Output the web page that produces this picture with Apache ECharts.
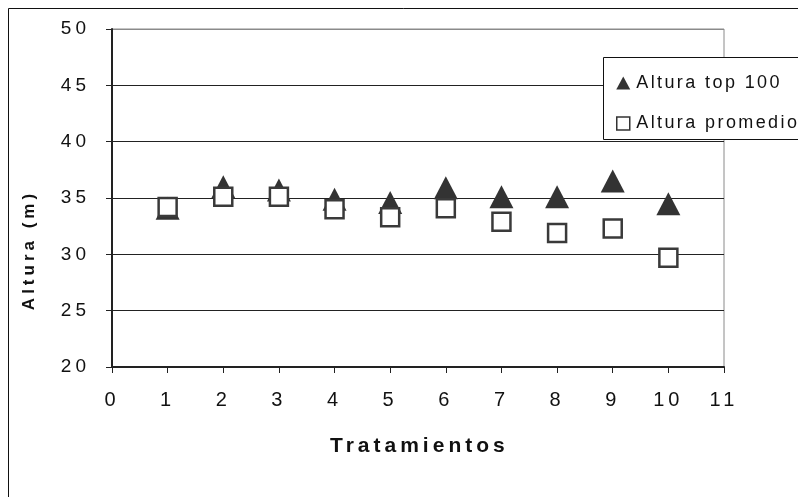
<!DOCTYPE html>
<html>
<head>
<meta charset="utf-8">
<script src="https://cdn.jsdelivr.net/npm/echarts@6/dist/echarts.min.js"></script>
<style>html,body{margin:0;padding:0;background:#fff}#c{width:798px;height:497px}</style>
</head>
<body>
<div id="c"></div>
<script>
const tratamientos = [1, 2, 3, 4, 5, 6, 7, 8, 9, 10];
const alturaTop100 = [34.1, 36.0, 35.7, 34.9, 34.6, 35.9, 35.1, 35.1, 36.5, 34.5];
const alturaPromedio = [34.2, 35.1, 35.1, 34.0, 33.3, 34.1, 32.9, 31.9, 32.3, 29.7];
const xTicks = [0, 11, 1];
const yTicks = [20, 50, 5];
const seriesNames = ['Altura top 100', 'Altura promedio'];
const xTitle = 'Tratamientos';
const yTitle = 'Altura (m)';

// Widen letter spacing of text like in the reference (spaced, narrow lettering)
(function () {
  const proto = CanvasRenderingContext2D.prototype;
  if (!('letterSpacing' in proto)) return;
  const orig = proto.fillText;
  proto.fillText = function (t, x, y, w) {
    const prev = this.letterSpacing;
    const f = this.font || '';
    if (/bold|700/.test(f)) this.letterSpacing = '4px';
    else if (/\b18px/.test(f)) this.letterSpacing = '2.4px';
    const r = (w === undefined) ? orig.call(this, t, x, y) : orig.call(this, t, x, y, w);
    this.letterSpacing = prev;
    return r;
  };
})();

const FONT = '"Liberation Sans", Arial, sans-serif';
const chart = echarts.init(document.getElementById('c'), null, {renderer: 'canvas'});
chart.setOption({
  animation: false,
  backgroundColor: '#fff',
  grid: {left: 112, right: 74, top: 29, bottom: 130, show: true, borderColor: '#8a8a8a', borderWidth: 1, backgroundColor: 'transparent'},
  xAxis: {
    type: 'value', min: xTicks[0], max: xTicks[1], interval: xTicks[2],
    axisLine: {show: true, onZero: false, lineStyle: {color: '#222', width: 2}},
    axisTick: {show: true, length: 6, lineStyle: {color: '#222', width: 1}},
    axisLabel: {color: '#111', fontFamily: FONT, fontSize: 20, margin: 23},
    splitLine: {show: false}
  },
  yAxis: {
    type: 'value', min: yTicks[0], max: yTicks[1], interval: yTicks[2],
    axisLine: {show: true, onZero: false, lineStyle: {color: '#222', width: 2}},
    axisTick: {show: true, length: 6, lineStyle: {color: '#222', width: 1}},
    axisLabel: {color: '#111', fontFamily: FONT, fontSize: 19, margin: 22},
    splitLine: {show: true, lineStyle: {color: ['#222', '#222', '#222', '#222', '#222', '#222', '#8a8a8a'], width: 1}}
  },
  legend: {
    orient: 'vertical', left: 611, top: 69, itemGap: 22.5, itemWidth: 14, itemHeight: 13, z: 10,
    textStyle: {color: '#111', fontFamily: FONT, fontSize: 18, padding: [0, 0, 0, 1]},
    data: [
      {name: seriesNames[0], icon: 'triangle'},
      {name: seriesNames[1], icon: 'path://M0,0L10,0L10,10L0,10Z', itemStyle: {color: '#fff', borderColor: '#333', borderWidth: 1.5}}
    ]
  },
  graphic: [
    {type: 'rect', shape: {x: 8.5, y: 8.5, width: 800, height: 500}, style: {fill: 'none', stroke: '#111', lineWidth: 1}, z: -10},
    {type: 'rect', shape: {x: 603.5, y: 57.5, width: 220, height: 82}, style: {fill: '#fff', stroke: '#111', lineWidth: 1}, z: 3},
    {type: 'text', x: 330, y: 446, style: {text: xTitle, font: 'bold 21px ' + FONT, fill: '#111', textAlign: 'left', textVerticalAlign: 'middle'}},
    {type: 'text', x: 29, y: 250, rotation: Math.PI / 2, style: {text: yTitle, font: 'bold 17px ' + FONT, fill: '#111', textAlign: 'center', textVerticalAlign: 'middle'}}
  ],
  series: [
    {
      name: seriesNames[0], type: 'scatter', symbol: 'triangle', symbolSize: [24, 23],
      itemStyle: {color: '#333', opacity: 1},
      data: tratamientos.map((t, i) => [t, alturaTop100[i]]), z: 2
    },
    {
      name: seriesNames[1], type: 'scatter', symbol: 'rect', symbolSize: 18,
      itemStyle: {color: '#fff', borderColor: '#3a3a3a', borderWidth: 2.5, opacity: 1},
      data: tratamientos.map((t, i) => [t, alturaPromedio[i]]), z: 3
    }
  ]
});
</script>
</body>
</html>
